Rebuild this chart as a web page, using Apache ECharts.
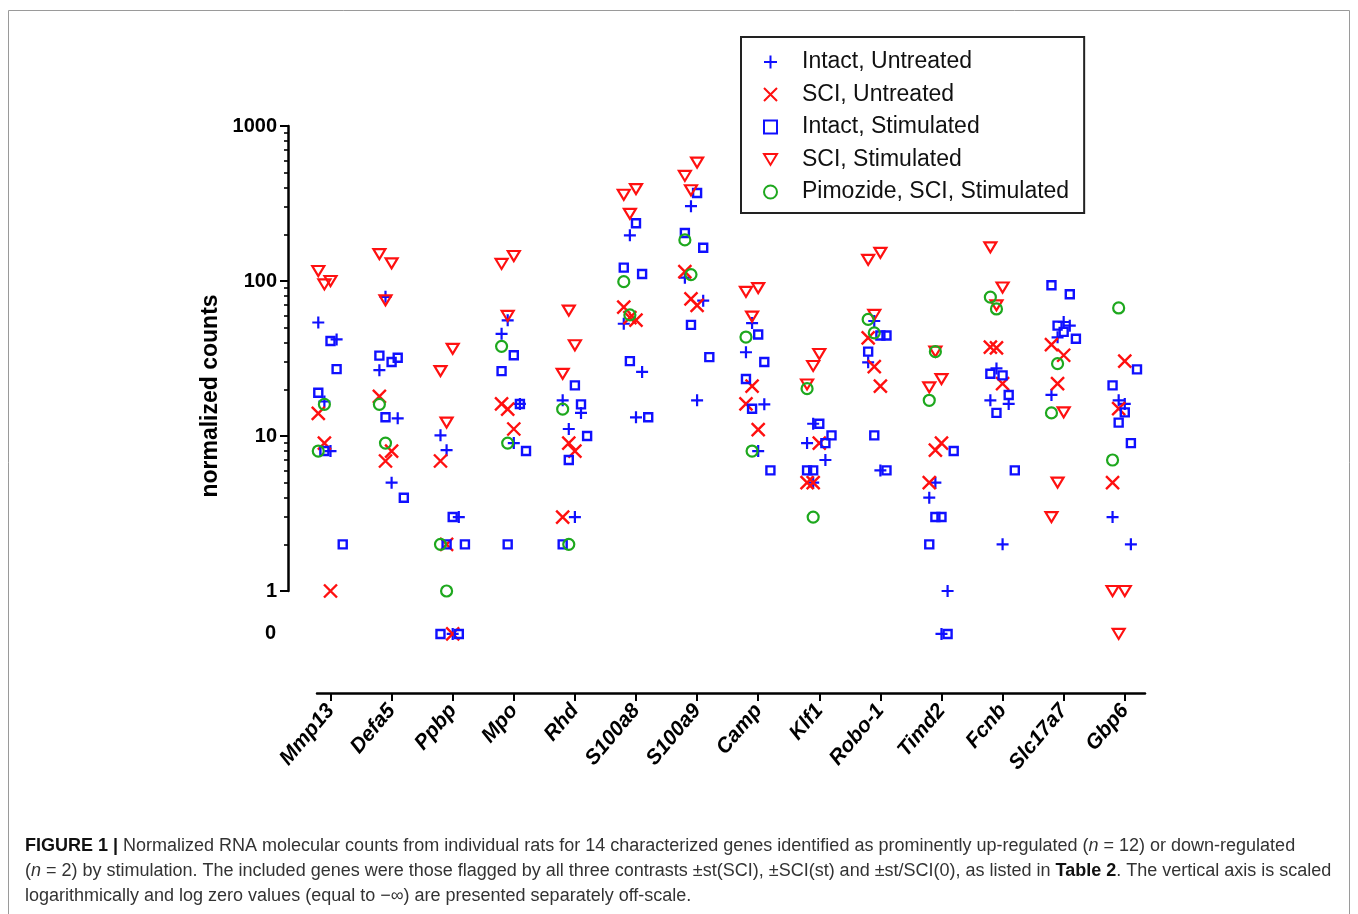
<!DOCTYPE html>
<html><head><meta charset="utf-8">
<script src="https://cdn.jsdelivr.net/npm/echarts@6/dist/echarts.min.js"></script>
<style>html,body{margin:0;padding:0;background:#fff}#c{width:1358px;height:914px}</style>
</head><body><div id="c"></div>
<script>
// ---------------- data ----------------
const genes = ['Mmp13','Defa5','Ppbp','Mpo','Rhd','S100a8','S100a9','Camp','Klf1','Robo-1','Timd2','Fcnb','Slc17a7','Gbp6'];
const groupNames = ['Intact, Untreated','SCI, Untreated','Intact, Stimulated','SCI, Stimulated','Pimozide, SCI, Stimulated'];
const yTickValues = [1, 10, 100, 1000];
const zeroLabel = '0';

// normalized counts per gene (0 = log zero, shown off-scale); *Slot = side-by-side jitter slot of each animal
const intactUntreated = [[54,42,16.7,8],[79,26.6,13,5],[10.1,8.1,3,0],[55.8,45.6,16.1,9],[17,14.1,11.1,3],[197,53,25.9,13.2],[304,105,74.7,17],[53.5,34.7,16,8],[12,9,7,5],[55.2,29.9,6],[5,4,1,0],[27.3,17,16.1,2],[54.4,51.5,43.3,18.4],[17,16.1,3,2]];
const intactUntreatedSlot = [[-2,1,-1,0],[-1,-2,1,0],[-2,-1,1,0],[-1,-2,1,0],[-2,1,-1,0],[-1,-2,1,0],[-1,-2,1,0],[-1,-2,1,0],[-1,-2,1,-1],[-1,-2,0],[-1,-2,1,0],[-1,-2,1,0],[0,1,-1,-2],[-1,0,-2,1]];

const sciUntreated = [[14,9,1],[18,8,6.9],[6.9,2,0],[16.1,14.9,11.1],[9,8,3],[67.9,58,56],[115,76.7,69.7],[21,16.1,11],[9,5,5],[42.9,28,21],[9,8.1,5],[37.5,37,21.8],[38.9,33.2,21.8],[30.4,15,5]];
const sciUntreatedSlot = [[-2,-1,0],[-2,0,-1],[-2,-1,0],[-2,-1,0],[-1,0,-2],[-2,-1,0],[-2,-1,0],[-1,-2,0],[0,-2,-1],[-2,-1,0],[0,-1,-2],[-2,-1,0],[-2,0,-1],[0,-1,-2]];

const intactStimulated = [[41,27,19,8,2],[33,30,32,13.2,4],[3,2,2,0,0],[33.2,26.2,16.1,8,2],[21.2,16,10,7,2],[236,122,111,30.4,13.2],[370,204,164,52.1,32.3],[45.2,30,23.3,15,6],[12,10.1,9,6,6],[44.5,44.5,35,10.1,6],[8,3,3,2,0],[25.2,24.6,18.4,14.1,6],[93.8,82.2,51.5,47,42.4],[26.9,21.2,14.2,12.2,9]];
const intactStimulatedSlot = [[0,1,-2,-1,2],[-2,0,1,-1,2],[0,-1,2,-2,1],[0,-2,1,2,-1],[0,1,2,-1,-2],[0,-2,1,-1,2],[0,-2,1,-1,2],[0,1,-2,-1,2],[0,2,1,-2,-1],[0,1,-2,-1,1],[2,-1,0,-2,1],[-2,0,1,-1,2],[-2,1,-1,0,2],[2,-2,0,-1,1]];

const sciStimulated = [[116,95,100],[149,130,75],[36.5,26.2,12.2],[128.8,145,59.5],[64.4,38.5,25.2],[360,392,271],[580,476,385],[85.2,89.9,58.9],[33.8,28.3,21.5],[137,152,60.4],[35,23.3,20.6],[165,90.8,69.7],[14.2,5,3],[1,1,0]];
const sciStimulatedSlot = [[-2,-1,0],[-2,0,-1],[0,-2,-1],[-2,0,-1],[-1,0,-2],[-2,0,-1],[0,-2,-1],[-2,0,-1],[0,-1,-2],[-2,0,-1],[-1,0,-2],[-2,0,-1],[0,-1,-2],[-2,0,-1]];

const pimozide = [[16,8],[16,9],[2,1],[37.9,9],[14.9,2],[99,60.4],[184,110],[43.5,8],[20.2,3],[56.5,46.3],[35,17],[78.7,66],[29.3,14.1],[67,7]];
const pimozideSlot = [[-1,-2],[-2,-1],[-2,-1],[-2,-1],[-2,-1],[-2,-1],[-2,-1],[-2,-1],[-2,-1],[-2,-1],[-1,-2],[-2,-1],[-1,-2],[-1,-2]];

// ---------------- layout constants ----------------
const SLOT_STEP = 0.1;      // jitter step in category units
const ZERO_ROW = -0.277;    // log-position where log-zero values are drawn
const Y_MIN = -0.658, Y_MAX = 3;
const X_MIN = -0.221, X_MAX = 13.331;
const FONT = '"Liberation Sans", Arial, Helvetica, sans-serif';

function toPoints(vals, slots) {
  const out = [];
  vals.forEach((arr, g) => arr.forEach((v, k) => {
    out.push([g + slots[g][k] * SLOT_STEP, v > 0 ? Math.log10(v) : ZERO_ROW, v]);
  }));
  return out;
}

const BLUE = '#1010ff', RED = '#ff1010', GREEN = '#1ea81e';
const seriesDefs = [
  {name: groupNames[0], vals: intactUntreated, slots: intactUntreatedSlot, symbol: 'path://M0,6 L12,6 M6,0 L6,12', size: 12, color: BLUE, bw: 2.2},
  {name: groupNames[1], vals: sciUntreated, slots: sciUntreatedSlot, symbol: 'path://M0,0 L12,12 M12,0 L0,12', size: 13, color: RED, bw: 2.4},
  {name: groupNames[2], vals: intactStimulated, slots: intactStimulatedSlot, symbol: 'path://M0,0 L8,0 L8,8 L0,8 Z', size: 8, color: BLUE, bw: 2.4},
  {name: groupNames[3], vals: sciStimulated, slots: sciStimulatedSlot, symbol: 'path://M0,0 L12,0 L6,10 Z', size: 12, color: RED, bw: 2.2},
  {name: groupNames[4], vals: pimozide, slots: pimozideSlot, symbol: 'circle', size: 11, color: GREEN, bw: 2.2}
];

const majorTicks = yTickValues.map(v => Math.log10(v));
const minorTicks = [];
for (let d = 0; d < 3; d++) for (let m = 2; m <= 9; m++) minorTicks.push(d + Math.log10(m));

const chart = echarts.init(document.getElementById('c'), null, {renderer: 'canvas'});
chart.setOption({
  animation: false,
  backgroundColor: '#fff',
  grid: [
    {left: 317, right: 213, top: 126, bottom: 221},
    {left: 288, width: 10, top: 126, height: 465}
  ],
  xAxis: [
    {gridIndex: 0, type: 'value', min: X_MIN, max: X_MAX,
     axisLine: {show: true, onZero: false, lineStyle: {color: '#000', width: 2.5}},
     axisTick: {show: true, customValues: genes.map((g, i) => i), length: 8, lineStyle: {color: '#000', width: 2}},
     axisLabel: {show: true, customValues: genes.map((g, i) => i), formatter: v => genes[Math.round(v)],
       rotate: 50, margin: 14, fontStyle: 'italic', fontWeight: 'bold', fontSize: 21, color: '#000', fontFamily: FONT},
     splitLine: {show: false}},
    {gridIndex: 1, type: 'value', show: false}
  ],
  yAxis: [
    {gridIndex: 0, type: 'value', min: Y_MIN, max: Y_MAX,
     axisLine: {show: false, onZero: false}, axisTick: {show: false}, splitLine: {show: false},
     axisLabel: {show: true, customValues: [ZERO_ROW], formatter: () => zeroLabel, margin: 41,
       fontWeight: 'bold', fontSize: 20, color: '#000', fontFamily: FONT}},
    {gridIndex: 1, type: 'value', min: 0, max: 3, position: 'left',
     axisLine: {show: true, onZero: false, lineStyle: {color: '#000', width: 2.5}},
     axisTick: {show: true, customValues: majorTicks, length: 8, lineStyle: {color: '#000', width: 2}},
     axisLabel: {show: true, customValues: majorTicks, formatter: v => String(Math.round(Math.pow(10, v))),
       margin: 11, fontWeight: 'bold', fontSize: 20, color: '#000', fontFamily: FONT},
     splitLine: {show: false}},
    {gridIndex: 1, type: 'value', min: 0, max: 3, position: 'left',
     axisLine: {show: false, onZero: false},
     axisTick: {show: true, customValues: minorTicks, length: 4, lineStyle: {color: '#000', width: 1.6}},
     axisLabel: {show: false}, splitLine: {show: false}}
  ],
  legend: {
    orient: 'vertical', left: 741, top: 37,
    data: groupNames,
    borderColor: '#222', borderWidth: 2, padding: [13, 15, 9, 22],
    itemWidth: 13, itemHeight: 13, itemGap: 8.5,
    textStyle: {fontSize: 23, fontFamily: FONT, color: '#111', lineHeight: 24, padding: [0, 0, 0, 20]},
    selectedMode: false
  },
  series: seriesDefs.map(s => ({
    type: 'scatter', name: s.name, xAxisIndex: 0, yAxisIndex: 0,
    data: toPoints(s.vals, s.slots),
    symbol: s.symbol, symbolSize: s.size, symbolKeepAspect: true,
    itemStyle: {color: 'rgba(0,0,0,0)', borderColor: s.color, borderWidth: s.bw, opacity: 1},
    emphasis: {disabled: true},
    clip: false
  })),
  graphic: [
    {type: 'rect', silent: true, shape: {x: 8.5, y: 10.5, width: 1341, height: 930},
     style: {fill: 'none', stroke: '#9a9a9a', lineWidth: 1}},
    {type: 'text', silent: true, x: 211, y: 396, rotation: Math.PI / 2,
     style: {text: 'normalized counts', font: 'bold 23px ' + FONT, fill: '#000', align: 'center', verticalAlign: 'middle'}},
    {type: 'text', silent: true, x: 25, y: 846,
     style: {text: '{b|FIGURE 1 |} Normalized RNA molecular counts from individual rats for 14 characterized genes identified as prominently up-regulated ({i|n} = 12) or down-regulated',
       font: '18px ' + FONT, fill: '#333', verticalAlign: 'middle',
       rich: {b: {font: 'bold 18px ' + FONT, fill: '#111'}, i: {font: 'italic 18px ' + FONT, fill: '#333'}}}},
    {type: 'text', silent: true, x: 25, y: 871,
     style: {text: '({i|n} = 2) by stimulation. The included genes were those flagged by all three contrasts \u00b1st(SCI), \u00b1SCI(st) and \u00b1st/SCI(0), as listed in {b|Table 2}. The vertical axis is scaled',
       font: '18px ' + FONT, fill: '#333', verticalAlign: 'middle',
       rich: {b: {font: 'bold 18px ' + FONT, fill: '#111'}, i: {font: 'italic 18px ' + FONT, fill: '#333'}}}},
    {type: 'text', silent: true, x: 25, y: 896,
     style: {text: 'logarithmically and log zero values (equal to \u2212\u221e) are presented separately off-scale.',
       font: '18px ' + FONT, fill: '#333', verticalAlign: 'middle'}}
  ]
});
</script>
</body></html>
